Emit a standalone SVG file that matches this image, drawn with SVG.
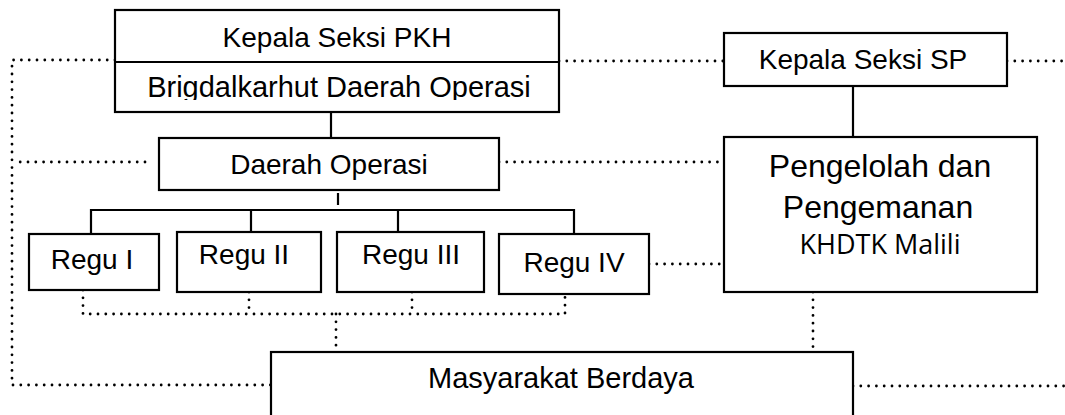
<svg xmlns="http://www.w3.org/2000/svg" width="1065" height="415" viewBox="0 0 1065 415">
<style>
.box{fill:#fff;stroke:#000;stroke-width:2.2}
.solid{fill:none;stroke:#000;stroke-width:2.2}
.dot{fill:none;stroke:#000;stroke-width:2.8;stroke-linecap:round;stroke-dasharray:0 7.8}
text{font-family:"Liberation Sans",Arial,sans-serif;fill:#000;text-anchor:middle}
.t28{font-size:28px}
.t29{font-size:29px}
.t32{font-size:32px}
.cal{font-family:"Open Sans","Noto Sans",sans-serif;font-size:27px}
</style>
<defs>
<clipPath id="clipBrig"><rect x="116" y="63" width="441" height="37"/></clipPath>
</defs>
<rect width="1065" height="415" fill="#fff"/>
<g id="connectors">
<path class="solid" d="M331 112V138"/>
<path class="solid" d="M853 86V137"/>
<path class="solid" d="M338 193V205"/>
<path class="solid" d="M91 234V210H574V234M251 210V232M398 210V232"/>
<path class="dot" d="M115 60H12V385H271"/>
<path class="dot" d="M145 162H14"/>
<path class="dot" d="M559 61H724"/>
<path class="dot" d="M1007 61H1065"/>
<path class="dot" d="M499 162H724"/>
<path class="dot" d="M649 264H724"/>
<path class="dot" d="M83 290V314H565V294"/>
<path class="dot" d="M249 292V314"/>
<path class="dot" d="M412 292V314"/>
<path class="dot" d="M336 314V352"/>
<path class="dot" d="M813 292V352"/>
<path class="dot" d="M853 386H1065"/>
</g>
<g id="kepala-pkh">
<rect class="box" x="115" y="10" width="444" height="102"/>
<path class="solid" d="M115 62H559"/>
<text class="t28" x="337" y="47">Kepala Seksi PKH</text>
<text class="t29" x="339" y="97" clip-path="url(#clipBrig)">Brigdalkarhut Daerah Operasi</text>
</g>
<g id="kepala-sp">
<rect class="box" x="724" y="33" width="283" height="53"/>
<text class="t28" x="863" y="69">Kepala Seksi SP</text>
</g>
<g id="daerah-operasi">
<rect class="box" x="159" y="138" width="340" height="52"/>
<text class="t28" x="329" y="174">Daerah Operasi</text>
</g>
<g id="pengelolah">
<rect class="box" x="724" y="137" width="313" height="155"/>
<text class="t32" x="880" y="177">Pengelolah dan</text>
<text class="t32" x="878" y="218">Pengemanan</text>
<text class="cal" x="880" y="254">KHDTK Malili</text>
</g>
<g id="regu-1">
<rect class="box" x="29" y="234" width="130" height="56"/>
<text class="t28" x="92" y="269">Regu I</text>
</g>
<g id="regu-2">
<rect class="box" x="177" y="232" width="144" height="60"/>
<text class="t28" x="244" y="264">Regu II</text>
</g>
<g id="regu-3">
<rect class="box" x="337" y="232" width="147" height="60"/>
<text class="t28" x="411" y="264">Regu III</text>
</g>
<g id="regu-4">
<rect class="box" x="499" y="234" width="150" height="60"/>
<text class="t28" x="574" y="272">Regu IV</text>
</g>
<g id="masyarakat">
<rect class="box" x="271" y="352" width="582" height="90"/>
<text class="t29" x="561" y="388">Masyarakat Berdaya</text>
</g>
</svg>
